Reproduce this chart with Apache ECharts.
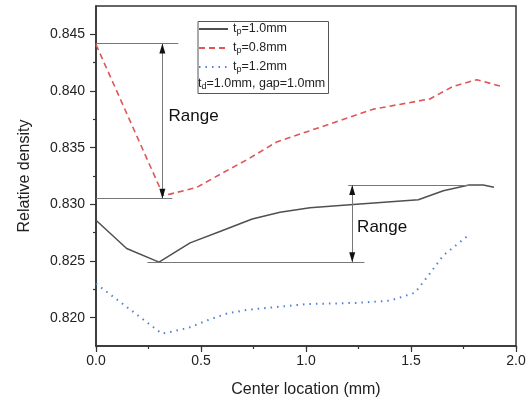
<!DOCTYPE html>
<html><head><meta charset="utf-8">
<script src="https://cdn.jsdelivr.net/npm/echarts@6/dist/echarts.min.js"></script>
<style>html,body{margin:0;padding:0;background:#fff}#c{width:532px;height:403px}</style>
</head><body><div id="c"></div>
<script>
// ---- data ----
const thickness = ['1.0', '0.8', '1.2'];
const x10 = [0, 0.146, 0.30, 0.448, 0.590, 0.744, 0.876, 1.019, 1.241, 1.535, 1.654, 1.776, 1.844, 1.895];
const y10 = [0.8286, 0.8261, 0.8249, 0.8266, 0.8276, 0.8287, 0.8293, 0.8297, 0.8300, 0.8304, 0.8312, 0.8317, 0.8317, 0.8315];
const x08 = [0, 0.32, 0.352, 0.48, 0.606, 0.725, 0.860, 1.083, 1.321, 1.590, 1.70, 1.813, 1.932];
const y08 = [0.8441, 0.8308, 0.8309, 0.8315, 0.8328, 0.8340, 0.8355, 0.8369, 0.8384, 0.8393, 0.8404, 0.8410, 0.8404];
const x12 = [0, 0.313, 0.344, 0.44, 0.535, 0.63, 0.725, 1.003, 1.241, 1.40, 1.519, 1.59, 1.654, 1.776];
const y12 = [0.8230, 0.8186, 0.8187, 0.8191, 0.8198, 0.8204, 0.8207, 0.8212, 0.8213, 0.8215, 0.8222, 0.8239, 0.8255, 0.8273];
const yTickLabels = [0.820, 0.825, 0.830, 0.835, 0.840, 0.845];
const yMinorTicks = [0.8225, 0.8275, 0.8325, 0.8375, 0.8425];
const xTickLabels = [0, 0.5, 1.0, 1.5, 2.0];
// range annotations: [x start, x end, y]
const range1Top = [0, 0.392, 0.8442];
const range1Bottom = [0, 0.363, 0.8305];
const range1ArrowX = 0.316;
const range2Top = [1.201, 1.843, 0.8317];
const range2Bottom = [0.245, 1.278, 0.8249];
const range2ArrowX = 1.22;
const rangeLabel = 'Range';
const range1LabelAt = [0.343, 0.8378];
const range2LabelAt = [1.241, 0.8280];
const noteText = ['t', 'd', '=1.0mm, gap=1.0mm'];

const zip = (a, b) => a.map((v, i) => [v, b[i]]);
const names = thickness.map(t => 'tp=' + t + 'mm');
const font = 'Arial, "Liberation Sans", sans-serif';

const chart = echarts.init(document.getElementById('c'));
const hline = (r) => [{coord: [r[0], r[2]]}, {coord: [r[1], r[2]]}];
const vline = (x, y1, y2) => [{coord: [x, y1]}, {coord: [x, y2]}];
const headUp = (x, y) => ({coord: [x, y], symbol: 'triangle', symbolSize: [6, 10], symbolOffset: [0, 5], itemStyle: {color: '#111'}});
const headDown = (x, y) => ({coord: [x, y], symbol: 'triangle', symbolSize: [6, 10], symbolRotate: 180, symbolOffset: [0, -5], itemStyle: {color: '#111'}});
const textAt = (c) => ({coord: c, symbol: 'circle', symbolSize: 1, itemStyle: {color: 'rgba(0,0,0,0)'},
  label: {show: true, position: 'right', distance: 0, formatter: rangeLabel, fontSize: 17, color: '#111', fontFamily: font}});
const richStyles = (fillKey) => ({
  n: {fontSize: 12.5, [fillKey]: '#222', lineHeight: 14, fontFamily: font},
  s: {fontSize: 9, [fillKey]: '#222', lineHeight: 14, verticalAlign: 'bottom', padding: [6, 0, 0, 0], fontFamily: font}
});

chart.setOption({
  animation: false,
  textStyle: {fontFamily: font},
  grid: {left: 96, right: 16, top: 6, bottom: 56, show: true, borderColor: '#333', borderWidth: 1.5},
  legend: {
    data: names, orient: 'vertical', left: 198, top: 21, padding: 0, itemGap: 4,
    itemWidth: 29, itemHeight: 14, selectedMode: false,
    itemStyle: {opacity: 0},
    formatter: n => '{n|t}{s|p}{n|' + n.slice(2) + '}',
    textStyle: {rich: richStyles('color')}
  },
  graphic: [
    {type: 'rect', shape: {x: 198, y: 21.5, width: 130.5, height: 72}, style: {fill: 'none', stroke: '#555', lineWidth: 1}, z: 1},
    {type: 'text', left: 198, top: 76, style: {rich: richStyles('fill'),
      text: '{n|' + noteText[0] + '}{s|' + noteText[1] + '}{n|' + noteText[2] + '}'}}
  ],
  xAxis: [{
    type: 'value', min: 0, max: 2, interval: 0.5,
    name: 'Center location (mm)', nameLocation: 'middle', nameGap: 36,
    nameTextStyle: {fontSize: 16, color: '#222'},
    axisLine: {lineStyle: {color: '#333', width: 1.5}},
    axisTick: {length: 6, lineStyle: {color: '#333', width: 1.2}},
    axisLabel: {fontSize: 14, color: '#222', margin: 8, formatter: v => v.toFixed(1)},
    splitLine: {show: false}
  }, {
    type: 'value', min: 0, max: 2, interval: 0.25, position: 'bottom',
    axisLine: {show: false}, axisLabel: {show: false}, splitLine: {show: false},
    axisTick: {length: 3, lineStyle: {color: '#333', width: 1.2}}
  }],
  yAxis: [{
    type: 'value', min: 0.8175, max: 0.8475,
    name: 'Relative density', nameLocation: 'middle', nameGap: 63,
    nameTextStyle: {fontSize: 16, color: '#222'},
    axisLine: {lineStyle: {color: '#333', width: 1.5}},
    axisTick: {length: 6, customValues: yTickLabels, lineStyle: {color: '#333', width: 1.2}},
    axisLabel: {fontSize: 14, color: '#222', margin: 11, customValues: yTickLabels, formatter: v => v.toFixed(3)},
    splitLine: {show: false}
  }, {
    type: 'value', min: 0.8175, max: 0.8475, position: 'left',
    axisLine: {show: false}, axisLabel: {show: false}, splitLine: {show: false},
    axisTick: {length: 3, customValues: yMinorTicks, lineStyle: {color: '#333', width: 1.2}}
  }],
  series: [
    {name: names[0], type: 'line', data: zip(x10, y10), symbol: 'none', color: '#505050',
     lineStyle: {color: '#505050', width: 1.5, type: 'solid'}, z: 3},
    {name: names[1], type: 'line', data: zip(x08, y08), symbol: 'none', color: '#e05555',
     lineStyle: {color: '#e05555', width: 1.6, type: [6, 4]}, z: 3},
    {name: names[2], type: 'line', data: zip(x12, y12), symbol: 'none', color: '#4f82d6',
     lineStyle: {color: '#4f82d6', width: 2, type: [1.5, 5]}, z: 3},
    {name: 'annot', type: 'line', data: [], symbol: 'none', z: 2,
     markLine: {silent: true, animation: false, label: {show: false}, symbol: 'none',
       lineStyle: {color: '#777', width: 1, type: 'solid'},
       data: [hline(range1Top), hline(range1Bottom), vline(range1ArrowX, range1Top[2], range1Bottom[2]),
              hline(range2Top), hline(range2Bottom), vline(range2ArrowX, range2Top[2], range2Bottom[2])]},
     markPoint: {silent: true,
       data: [headUp(range1ArrowX, range1Top[2]), headDown(range1ArrowX, range1Bottom[2]),
              headUp(range2ArrowX, range2Top[2]), headDown(range2ArrowX, range2Bottom[2]),
              textAt(range1LabelAt), textAt(range2LabelAt)]}
    }
  ]
});
</script></body></html>
